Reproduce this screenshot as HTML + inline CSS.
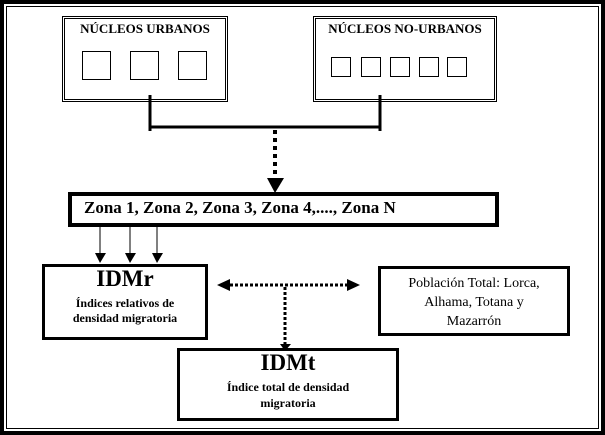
<!DOCTYPE html>
<html><head><style>
body{margin:0;width:605px;height:435px;background:#fff;position:relative;overflow:hidden;font-family:"Liberation Serif",serif;font-weight:bold;color:#000}
.a{position:absolute;box-sizing:border-box}
.t{position:absolute;text-align:center;white-space:nowrap}
</style></head><body>
<div class="a" style="left:0;top:0;width:605px;height:435px;border:4px solid #000"></div>
<div class="a" style="left:6px;top:6px;width:593px;height:423px;border:1px solid #000"></div>

<div class="a" style="left:62px;top:16px;width:166px;height:86px;border:3px double #000"></div>
<div class="t" style="left:62px;width:166px;top:21px;font-size:13px">NÚCLEOS URBANOS</div>
<div class="a" style="left:82px;top:51px;width:29px;height:29px;border:1px solid #000"></div>
<div class="a" style="left:130px;top:51px;width:29px;height:29px;border:1px solid #000"></div>
<div class="a" style="left:178px;top:51px;width:29px;height:29px;border:1px solid #000"></div>

<div class="a" style="left:313px;top:16px;width:184px;height:86px;border:3px double #000"></div>
<div class="t" style="left:313px;width:184px;top:21px;font-size:13px">NÚCLEOS NO-URBANOS</div>
<div class="a" style="left:331px;top:57px;width:20px;height:20px;border:1px solid #000"></div>
<div class="a" style="left:361px;top:57px;width:20px;height:20px;border:1px solid #000"></div>
<div class="a" style="left:390px;top:57px;width:20px;height:20px;border:1px solid #000"></div>
<div class="a" style="left:419px;top:57px;width:20px;height:20px;border:1px solid #000"></div>
<div class="a" style="left:447px;top:57px;width:20px;height:20px;border:1px solid #000"></div>

<svg class="a" style="left:0;top:0" width="605" height="435">
<g stroke="#000" fill="none">
<path d="M150 95V131M380 95V131M150 127H380" stroke-width="3"/>
<path d="M275 130V182" stroke-width="4" stroke-dasharray="4,4"/>
<path d="M100 226V254M130 226V254M157 226V254" stroke-width="1"/>
<path d="M230 285H348" stroke-width="3" stroke-dasharray="3,2"/>
<path d="M285 287V345" stroke-width="3" stroke-dasharray="3,2"/>
</g>
<g fill="#000">
<path d="M267 178H284L275 193Z"/>
<path d="M95 253H106L100 263Z M125 253H136L130 263Z M152 253H163L157 263Z"/>
<path d="M217 285L230 279V291Z M360 285L347 279V291Z"/>
<path d="M280 344H291L285 351Z"/>
</g>
</svg>

<div class="a" style="left:68px;top:192px;width:431px;height:35px;border:4px solid #000"></div>
<div class="t" style="left:84px;top:198px;font-size:17px">Zona 1, Zona 2, Zona 3, Zona 4,...., Zona N</div>

<div class="a" style="left:42px;top:264px;width:166px;height:76px;border:3px solid #000"></div>
<div class="t" style="left:42px;width:166px;top:266px;font-size:23px">IDMr</div>
<div class="t" style="left:42px;width:166px;top:296px;font-size:12px;line-height:15px">Índices relativos de<br>densidad migratoria</div>

<div class="a" style="left:378px;top:266px;width:192px;height:70px;border:3px solid #000"></div>
<div class="t" style="left:378px;width:192px;top:274px;font-size:14px;font-weight:normal;line-height:19px">Población Total: Lorca,<br>Alhama, Totana y<br>Mazarrón</div>

<div class="a" style="left:177px;top:348px;width:222px;height:73px;border:3px solid #000"></div>
<div class="t" style="left:177px;width:222px;top:350px;font-size:23px">IDMt</div>
<div class="t" style="left:177px;width:222px;top:379px;font-size:12px;line-height:16px">Índice total de densidad<br>migratoria</div>
</body></html>
